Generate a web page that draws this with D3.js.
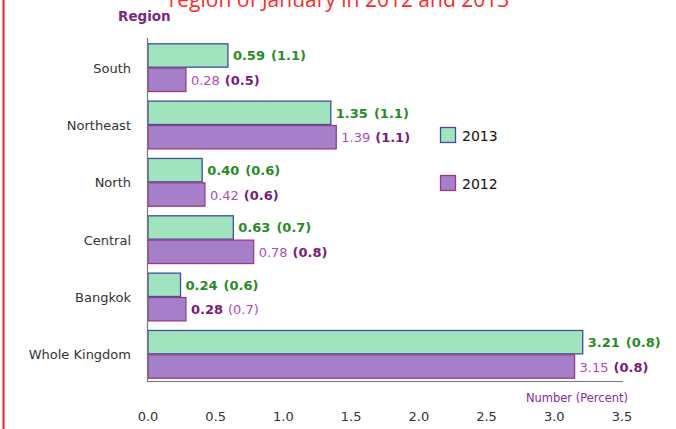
<!DOCTYPE html>
<html><head><meta charset="utf-8">
<script src="https://cdn.jsdelivr.net/npm/d3@7/dist/d3.min.js"></script>
<style>body{margin:0;background:#fff}svg{display:block}text{font-family:"DejaVu Sans",Verdana,sans-serif}</style>
</head><body><svg id="c" width="676" height="429"></svg>
<script>
const categories = ["South","Northeast","North","Central","Bangkok","Whole Kingdom"];
const series = ["2013","2012"];
const values2013 = [0.59,1.35,0.40,0.63,0.24,3.21];
const pct2013 = ["(1.1)","(1.1)","(0.6)","(0.7)","(0.6)","(0.8)"];
const values2012 = [0.28,1.39,0.42,0.78,0.28,3.15];
const pct2012 = ["(0.5)","(1.1)","(0.6)","(0.8)","(0.7)","(0.8)"];
const xTicks = [0,0.5,1.0,1.5,2.0,2.5,3.0,3.5];

const svg = d3.select("#c");
const x = d3.scaleLinear().domain([0,3.5]).range([148,622]);
const y = d3.scaleBand().domain(categories).range([39,383]).paddingInner(0.15).paddingOuter(0.075);
const ys = d3.scaleBand().domain(series).range([0,y.bandwidth()]);
const fill = {"2013":"#9fe3bf","2012":"#a67fca"};
const stroke = {"2013":"#3f4f9c","2012":"#9a3a80"};

// red left border line
svg.append("line").attr("x1",3.5).attr("x2",3.5).attr("y1",0).attr("y2",429).attr("stroke","#ff1a1a").attr("stroke-width",2);

// title (clipped at top)
svg.append("text").attr("x",339).attr("y",7).attr("text-anchor","middle").attr("fill","#ff2a2a")
  .style("font-family","'Open Sans','DejaVu Sans',sans-serif").style("font-size","21px")
  .text("region of January in 2012 and 2013");

svg.append("text").attr("x",118).attr("y",21).attr("fill","#7b2a8c").style("font-size","13.5px").style("font-weight","bold").text("Region");

const data = [];
categories.forEach((c,i)=>{
  data.push({c,s:"2013",v:values2013[i],p:pct2013[i],i});
  data.push({c,s:"2012",v:values2012[i],p:pct2012[i],i});
});

svg.selectAll("rect.bar").data(data).join("rect").attr("class","bar")
  .attr("x",x(0)).attr("y",d=>y(d.c)+ys(d.s)+0.5)
  .attr("width",d=>x(d.v)-x(0)).attr("height",ys.bandwidth()-1)
  .attr("fill",d=>fill[d.s]).attr("stroke",d=>stroke[d.s]).attr("stroke-width",1.3);

// value labels
const lab = svg.selectAll("text.val").data(data).join("text").attr("class","val")
  .attr("x",d=>x(d.v)+5).attr("y",d=>y(d.c)+ys(d.s)+ys.bandwidth()/2+5)
  .style("font-size","13px");
lab.each(function(d){
  const t = d3.select(this);
  if(d.s==="2013"){
    t.append("tspan").attr("fill","#1f8f1f").style("font-weight","bold").text(d.v.toFixed(2));
    t.append("tspan").attr("dx",6).attr("fill","#1f8f1f").style("font-weight","bold").text(d.p);
  } else {
    const boldFirst = d.c==="Bangkok";
    t.append("tspan").attr("fill",boldFirst?"#7a1a7e":"#b04cb4").style("font-weight",boldFirst?"bold":"normal").text(d.v.toFixed(2));
    t.append("tspan").attr("dx",5).attr("fill",boldFirst?"#b04cb4":"#7a1a7e").style("font-weight",boldFirst?"normal":"bold").text(d.p);
  }
});

// axes
svg.append("line").attr("x1",147.5).attr("x2",147.5).attr("y1",38).attr("y2",382).attr("stroke","#777").attr("stroke-width",1.2);
svg.append("line").attr("x1",147).attr("x2",623).attr("y1",381.5).attr("y2",381.5).attr("stroke","#777").attr("stroke-width",1);

svg.selectAll("text.cat").data(categories).join("text").attr("class","cat")
  .attr("x",131).attr("y",d=>y(d)+y.bandwidth()/2+5).attr("text-anchor","end")
  .attr("fill","#333").style("font-size","13px").text(d=>d);

svg.selectAll("text.tick").data(xTicks).join("text").attr("class","tick")
  .attr("x",d=>x(d)).attr("y",421).attr("text-anchor","middle")
  .attr("fill","#333").style("font-size","13px").text(d=>d.toFixed(1));

svg.append("text").attr("x",628).attr("y",402).attr("text-anchor","end").attr("fill","#8a2a9a").style("font-size","11.5px").text("Number (Percent)");

// legend
const lg = svg.selectAll("g.lg").data(series).join("g").attr("class","lg")
  .attr("transform",(d,i)=>`translate(440,${127+i*48})`);
lg.append("rect").attr("x",0.5).attr("y",0.5).attr("width",15).attr("height",15).attr("fill",d=>fill[d]).attr("stroke",d=>stroke[d]).attr("stroke-width",1.3);
lg.append("text").attr("x",22).attr("y",14).attr("fill","#111").style("font-size","14px").text(d=>d);
</script></body></html>
